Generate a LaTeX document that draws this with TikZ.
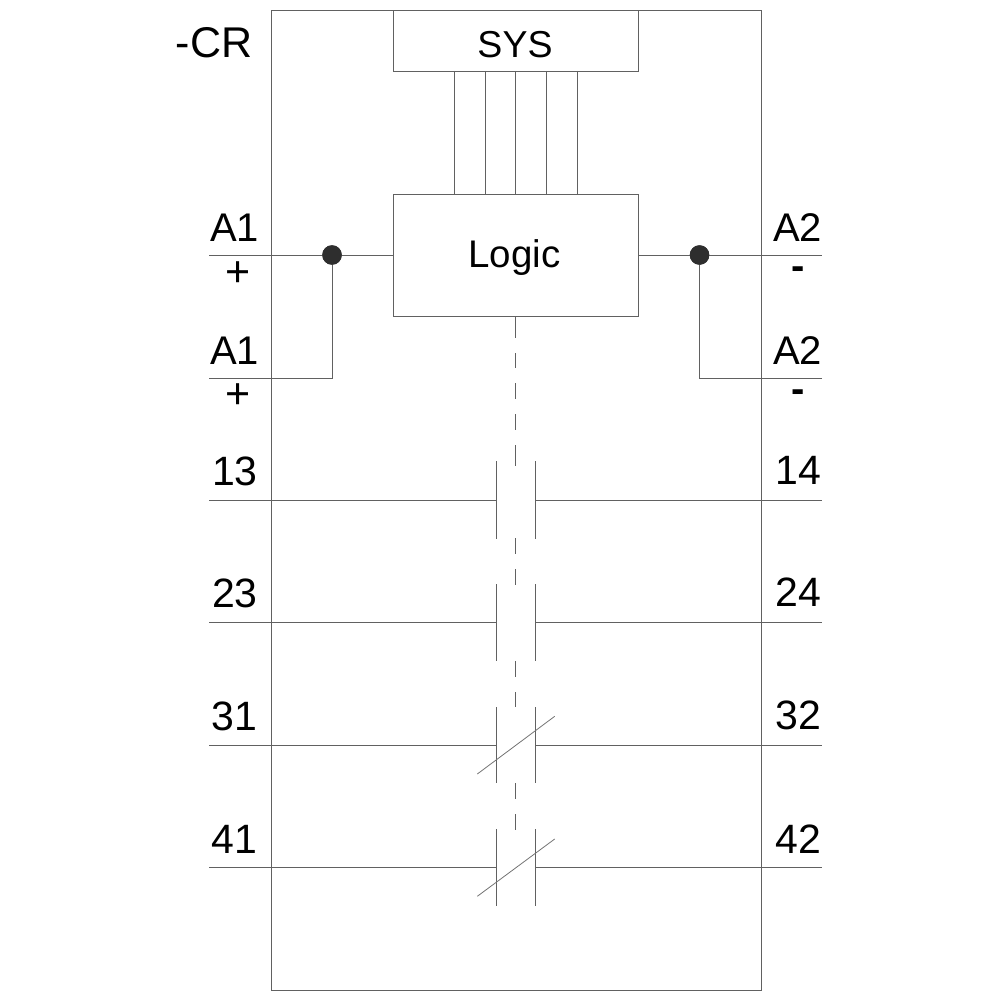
\documentclass[tikz,border=0pt]{standalone}
\usepackage{fontspec}
\setmainfont{Liberation Sans}
\tikzset{
  x=1pt,y=-1pt,
  wire/.style={draw=black!62,line width=1pt},
  thin wire/.style={draw=black!55,line width=0.8pt},
  boxed/.style={draw=black!62,line width=1pt,rectangle,inner sep=0pt,fill=none},
  dotj/.style={circle,fill=black!82,draw=none,minimum size=19.5pt,inner sep=0pt},
  lab/.style={font=\fontsize{40}{40}\selectfont,text=black,inner sep=0pt,anchor=base},
  num/.style={font=\fontsize{41}{41}\selectfont,text=black,inner sep=0pt,anchor=base},
  mark text/.style={font=\fontsize{43}{43}\selectfont,text=black,inner sep=0pt,anchor=base east},
  title/.style={font=\fontsize{37.5}{37.5}\selectfont,text=black,inner sep=0pt,anchor=base},
  plus/.style={font=\fontsize{43}{43}\selectfont,text=black,inner sep=0pt,anchor=base},
  minus/.style={font=\fontsize{40}{40}\bfseries\selectfont,text=black,inner sep=0pt,anchor=base}
}
\begin{document}
\begin{tikzpicture}
\useasboundingbox (0,0) rectangle (1000,1000);
% boxes
\node[boxed,minimum width=490pt,minimum height=980pt] (outer) at (516,500.5) {};
\node[boxed,minimum width=245.5pt,minimum height=61pt] (sys) at (515.75,41) {};
\node[boxed,minimum width=245.5pt,minimum height=122pt] (logic) at (515.75,255.3) {};
\node[title] (systxt) at (515,58) {SYS};
\node[title,font=\fontsize{38.5}{38.5}\selectfont] (logictxt) at (514.5,267.7) {Logic};
% bus
\foreach \n/\x in {a/454.5,b/485,c/515.5,d/546.5,e/577}{
  \coordinate (bt\n) at (\x,71);
  \coordinate (bb\n) at (\x,194);
  \draw[wire] (bt\n) -- (bb\n);
}
% supply
\node[dotj] (jl) at (332,255) {};
\node[dotj] (jr) at (699.5,255) {};
\coordinate (a1a) at (209,255);
\coordinate (a1b) at (209,378);
\coordinate (a2a) at (822,255);
\coordinate (a2b) at (822,378);
\draw[wire] (a1a) -- (logic.west |- a1a);
\draw[wire] (logic.east |- a2a) -- (a2a);
\draw[wire] (a1b) -| (jl.center);
\draw[wire] (a2b) -| (jr.center);
\node[dotj] at (jl) {};
\node[dotj] at (jr) {};
% contacts
\foreach \n/\y/\t/\b in {p/500/461/539,q/622.5/584/661,r/745/707/783,s/867.5/829/906}{
  \coordinate (l\n) at (209,\y);
  \coordinate (r\n) at (822,\y);
  \coordinate (cl\n) at (496.5,\y);
  \coordinate (cr\n) at (535,\y);
  \draw[wire] (l\n) -- (cl\n);
  \draw[wire] (cr\n) -- (r\n);
  \draw[wire] (496.5,\t) -- (496.5,\b);
  \draw[wire] (535,\t) -- (535,\b);
}
\draw[thin wire] (477.3,774) -- (554.7,716.3);
\draw[thin wire] (477.3,896.3) -- (554.7,839);
% mechanical link
\foreach \t/\b in {316/337.5,353/368,383/399,414/430,445/466,538/554,569/585,661/677,692/707,783/799,814/830}{
  \draw[wire] (515.5,\t) -- (515.5,\b);
}
% labels
\node[mark text] (cr) at (252.5,57.7) {-CR};
\node[lab] (t1) at (234.5,241.3) {A1};
\node[plus] (s1) at (238.5,286) {+};
\node[lab] (t2) at (234.5,364) {A1};
\node[plus] (s2) at (238.5,408.5) {+};
\node[lab] (t3) at (797.5,241.3) {A2};
\node[minus] (s3) at (798.5,279) {-};
\node[lab] (t4) at (797.5,364) {A2};
\node[minus] (s4) at (798.5,402) {-};
\node[num] (n13) at (235,485) {13};
\node[num] (n14) at (798,484) {14};
\node[num] (n23) at (235,607.7) {23};
\node[num] (n24) at (798,606.7) {24};
\node[num] (n31) at (234.5,730.5) {31};
\node[num] (n32) at (798,729.7) {32};
\node[num] (n41) at (234.5,853.5) {41};
\node[num] (n42) at (798,853.5) {42};
\end{tikzpicture}
\end{document}
